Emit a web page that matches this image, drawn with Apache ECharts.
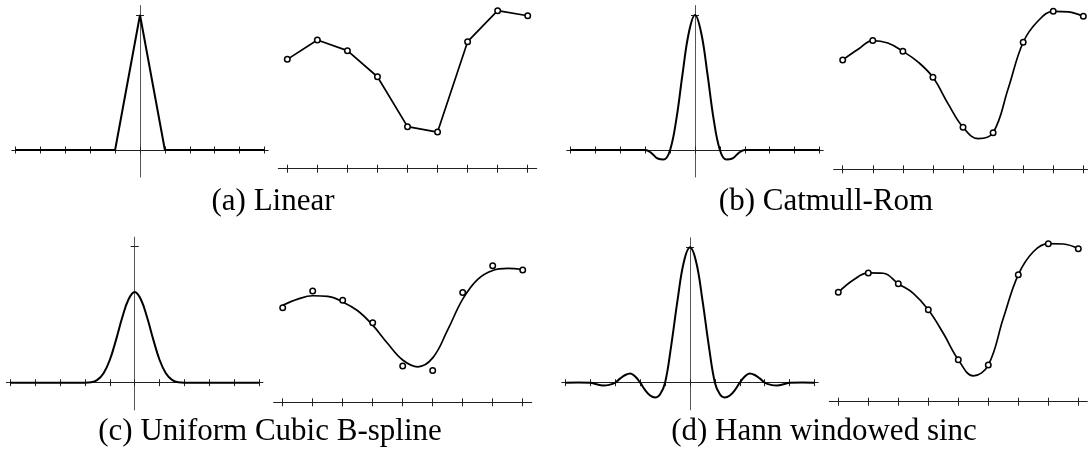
<!DOCTYPE html>
<html><head><meta charset="utf-8">
<script src="https://cdn.jsdelivr.net/npm/echarts@6/dist/echarts.min.js"></script>
<style>html,body{margin:0;padding:0;background:#fff}#c{width:1092px;height:452px}</style>
</head><body><div id="c"></div>
<script>
// ---------- data ----------
const sampleIndex  = [0, 1, 2, 3, 4, 5, 6, 7, 8];
const sampleValues = [0.692, 0.815, 0.747, 0.582, 0.266, 0.232, 0.804, 1.0, 0.968];
const sampleTicks  = [0, 1, 2, 3, 4, 5, 6, 7, 8];
const kernelTicks  = [-5, -4, -3, -2, -1, 0, 1, 2, 3, 4, 5];
const kernelYTicks = [0, 1];
const captions = ['(a) Linear', '(b) Catmull-Rom', '(c) Uniform Cubic B-spline', '(d) Hann windowed sinc'];

const kernelLinear = [[-5,0],[-4,0],[-3,0],[-2,0],[-1,0],[0,1],[1,0],[2,0],[3,0],[4,0],[5,0]];
const kernelCatmullRom = [[-5,0],[-4,0],[-3,0],[-2,0],[-1.75,-0.023],[-1.5,-0.063],[-1.25,-0.07],[-1,0],
  [-0.75,0.227],[-0.5,0.563],[-0.25,0.867],[0,1],[0.25,0.867],[0.5,0.563],[0.75,0.227],[1,0],
  [1.25,-0.07],[1.5,-0.063],[1.75,-0.023],[2,0],[3,0],[4,0],[5,0]];
const kernelBSpline = [[-5,0],[-4,0],[-3,0],[-2,0],[-1.75,0.003],[-1.5,0.021],[-1.25,0.07],[-1,0.167],
  [-0.75,0.315],[-0.5,0.479],[-0.25,0.612],[0,0.667],[0.25,0.612],[0.5,0.479],[0.75,0.315],[1,0.167],
  [1.25,0.07],[1.5,0.021],[1.75,0.003],[2,0],[3,0],[4,0],[5,0]];
const kernelHannSinc = [[-5,0],[-4.5,0.002],[-4,0],[-3.75,-0.012],[-3.5,-0.02],[-3.25,-0.016],[-3,0],
  [-2.8,0.032],[-2.6,0.057],[-2.4,0.068],[-2.2,0.045],[-2,0],[-1.8,-0.055],[-1.6,-0.095],[-1.4,-0.11],
  [-1.2,-0.085],[-1,0],[-0.75,0.28],[-0.5,0.61],[-0.25,0.89],[0,1],[0.25,0.89],[0.5,0.61],[0.75,0.28],
  [1,0],[1.2,-0.085],[1.4,-0.11],[1.6,-0.095],[1.8,-0.055],[2,0],[2.2,0.045],[2.4,0.068],[2.6,0.057],
  [2.8,0.032],[3,0],[3.25,-0.016],[3.5,-0.02],[3.75,-0.012],[4,0],[4.5,0.002],[5,0]];

const curveCatmullRom = [[0,0.692],[0.5,0.758],[1,0.815],[1.5,0.799],[2,0.747],[2.5,0.68],[3,0.582],
  [3.5,0.416],[4,0.266],[4.5,0.194],[5,0.232],[5.5,0.51],[6,0.804],[6.5,0.94],[7,1.0],[7.5,0.996],[8,0.968]];
const curveBSpline = [[0,0.71],[0.5,0.755],[1,0.78],[1.5,0.775],[2,0.735],[2.5,0.67],[3,0.565],
  [3.5,0.43],[4,0.31],[4.5,0.26],[5,0.325],[5.5,0.53],[6,0.755],[6.5,0.9],[7,0.965],[7.5,0.98],[8,0.972]];
const curveHannSinc = [[0,0.692],[0.5,0.77],[1,0.815],[1.5,0.813],[2,0.747],[2.5,0.686],[3,0.582],
  [3.5,0.433],[4,0.266],[4.5,0.163],[5,0.232],[5.5,0.528],[6,0.804],[6.5,0.949],[7,1.0],[7.5,0.998],[8,0.968]];

// ---------- layout (pixels) ----------
const kStep = 24.9, kXMin = -5.15, kXMax = 5.15, kYMin = -0.2, kYMax = 1.07;
const dXMin = -0.3;
const panels = [
  {kernel: kernelLinear,     kSmooth: false, curve: null,            kCenter: 140,   kZeroY: 150,   kUnit: 135,
   d0: 287.3, dStep: 30.05, dZeroY: 168.7, dUnit: 158,   dXMax: 8.3,  capX: 273, capY: 202},
  {kernel: kernelCatmullRom, kSmooth: 0.4,   curve: curveCatmullRom, kCenter: 695,   kZeroY: 150,   kUnit: 135,
   d0: 842.7, dStep: 30.08, dZeroY: 169.3, dUnit: 158,   dXMax: 8.14, capX: 826, capY: 202},
  {kernel: kernelBSpline,    kSmooth: 0.4,   curve: curveBSpline,    kCenter: 134.7, kZeroY: 382.7, kUnit: 136,
   d0: 282.7, dStep: 30.0,  dZeroY: 402.3, dUnit: 136.6, dXMax: 8.3,  capX: 270, capY: 432},
  {kernel: kernelHannSinc,   kSmooth: 0.4,   curve: curveHannSinc,   kCenter: 690,   kZeroY: 382.7, kUnit: 135.4,
   d0: 838.3, dStep: 30.0,  dZeroY: 401.7, dUnit: 158,   dXMax: 8.3,  capX: 824, capY: 432}
];

const axisColor = '#222';
const grid = [], xAxis = [], yAxis = [], series = [], graphic = [];
const samplePairs = sampleIndex.map((x, i) => [x, sampleValues[i]]);
const hollow = {color: '#fff', borderColor: '#000', borderWidth: 1.5, opacity: 1};
const tickStyle = {color: axisColor, width: 1};

panels.forEach((p, i) => {
  // ----- kernel grid -----
  const gk = grid.length;
  grid.push({left: p.kCenter + kXMin * kStep, width: (kXMax - kXMin) * kStep,
             top: p.kZeroY - kYMax * p.kUnit, height: (kYMax - kYMin) * p.kUnit,
             containLabel: false, outerBoundsMode: 'none'});
  const kx = xAxis.length, ky = yAxis.length;
  const xOff = kYMin * p.kUnit;      // moves bottom axis up to value 0
  const yOff = kXMin * kStep;        // moves left axis right to value 0
  const baseX = {type: 'value', gridIndex: gk, min: kXMin, max: kXMax, position: 'bottom', offset: xOff,
                 axisLabel: {show: false}, splitLine: {show: false}};
  xAxis.push(Object.assign({}, baseX, {
    axisLine: {show: true, onZero: false, lineStyle: {color: axisColor, width: 1}},
    axisTick: {show: true, customValues: kernelTicks, length: 3.5, inside: false, lineStyle: tickStyle}}));
  xAxis.push(Object.assign({}, baseX, {
    axisLine: {show: false, onZero: false},
    axisTick: {show: true, customValues: kernelTicks, length: 3.5, inside: true, lineStyle: tickStyle}}));
  const baseY = {type: 'value', gridIndex: gk, min: kYMin, max: kYMax, position: 'left', offset: yOff,
                 axisLabel: {show: false}, splitLine: {show: false}};
  yAxis.push(Object.assign({}, baseY, {
    axisLine: {show: true, onZero: false, lineStyle: {color: '#555', width: 1}},
    axisTick: {show: true, customValues: kernelYTicks, length: 4, inside: false, lineStyle: tickStyle}}));
  yAxis.push(Object.assign({}, baseY, {
    axisLine: {show: false, onZero: false},
    axisTick: {show: true, customValues: kernelYTicks, length: 4, inside: true, lineStyle: tickStyle}}));
  series.push({type: 'line', xAxisIndex: kx, yAxisIndex: ky, data: p.kernel, smooth: p.kSmooth,
               symbol: 'none', clip: false, z: 3, lineStyle: {color: '#000', width: 2}});

  // ----- data grid -----
  const gd = grid.length;
  grid.push({left: p.d0 + dXMin * p.dStep, width: (p.dXMax - dXMin) * p.dStep,
             top: p.dZeroY - p.dUnit, height: p.dUnit, containLabel: false, outerBoundsMode: 'none'});
  const dx = xAxis.length, dy = yAxis.length;
  const baseDX = {type: 'value', gridIndex: gd, min: dXMin, max: p.dXMax, position: 'bottom',
                  axisLabel: {show: false}, splitLine: {show: false}};
  xAxis.push(Object.assign({}, baseDX, {
    axisLine: {show: true, onZero: false, lineStyle: {color: axisColor, width: 1}},
    axisTick: {show: true, customValues: sampleTicks, length: 4, inside: false, lineStyle: tickStyle}}));
  xAxis.push(Object.assign({}, baseDX, {
    axisLine: {show: false, onZero: false},
    axisTick: {show: true, customValues: sampleTicks, length: 4, inside: true, lineStyle: tickStyle}}));
  yAxis.push({type: 'value', gridIndex: gd, min: 0, max: 1, show: false});
  if (p.curve) {
    series.push({type: 'line', xAxisIndex: dx, yAxisIndex: dy, data: p.curve, smooth: 0.4,
                 symbol: 'none', clip: false, z: 3, lineStyle: {color: '#000', width: 1.7}});
    series.push({type: 'scatter', xAxisIndex: dx, yAxisIndex: dy, data: samplePairs, symbol: 'circle',
                 symbolSize: 5.5, clip: false, z: 4, itemStyle: hollow});
  } else {
    series.push({type: 'line', xAxisIndex: dx, yAxisIndex: dy, data: samplePairs, symbol: 'circle',
                 symbolSize: 5.5, showAllSymbol: true, clip: false, z: 3,
                 lineStyle: {color: '#000', width: 1.7}, itemStyle: hollow});
  }

  graphic.push({type: 'text', x: p.capX, y: p.capY, silent: true,
    style: {text: captions[i], font: '31px "Liberation Serif"', fill: '#000',
            align: 'center', verticalAlign: 'middle', textAlign: 'center', textVerticalAlign: 'middle'}});
});

const chart = echarts.init(document.getElementById('c'), null, {renderer: 'canvas'});
chart.setOption({animation: false, backgroundColor: '#fff', grid, xAxis, yAxis, series, graphic});
</script></body></html>
